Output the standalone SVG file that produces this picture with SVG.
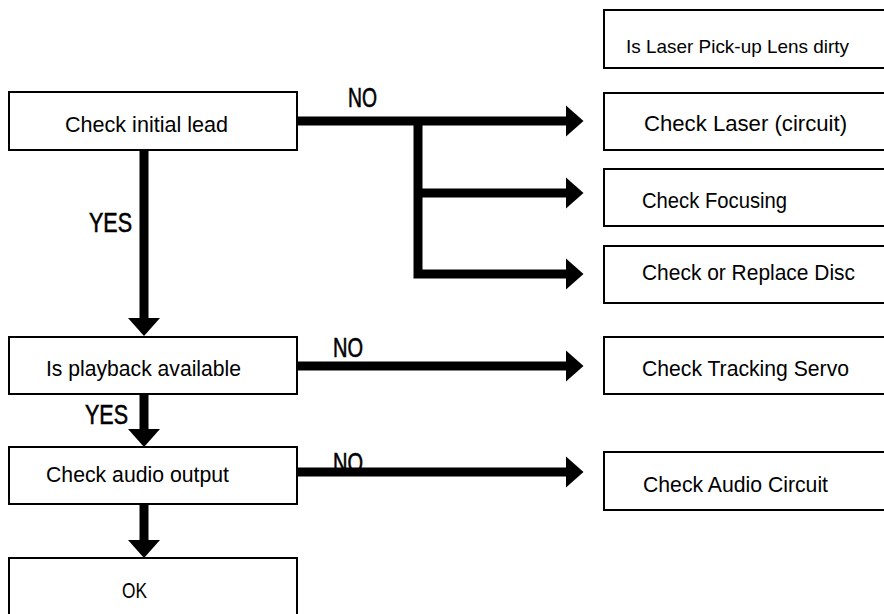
<svg xmlns="http://www.w3.org/2000/svg" width="884" height="614" viewBox="0 0 884 614">
<style>
.box{fill:#fff;stroke:#000;stroke-width:2}
.t{font-family:"Liberation Sans",Arial,sans-serif;font-size:22px;fill:#000}
.s{font-size:19px}
.lbl{font-family:"Liberation Sans",Arial,sans-serif;font-size:27px;fill:#000;stroke:#000;stroke-width:0.6}
.c{fill:none;stroke:#000;stroke-width:9}
</style>
<defs>
<marker id="ah" viewBox="0 0 18 32" markerWidth="18" markerHeight="32" markerUnits="userSpaceOnUse" refX="0.5" refY="16" orient="auto">
<path d="M0,0 L18,16 L0,32 Z" fill="#000"/>
</marker>
</defs>
<g id="labels">
<text class="lbl" x="348" y="107" textLength="29" lengthAdjust="spacingAndGlyphs">NO</text>
<text class="lbl" x="333" y="357" textLength="30" lengthAdjust="spacingAndGlyphs">NO</text>
<text class="lbl" x="333" y="472" textLength="30" lengthAdjust="spacingAndGlyphs">NO</text>
<text class="lbl" x="89" y="232" textLength="43" lengthAdjust="spacingAndGlyphs">YES</text>
<text class="lbl" x="85" y="424" textLength="43" lengthAdjust="spacingAndGlyphs">YES</text>
</g>
<g id="connectors">
<path class="c" d="M297,121 H566" marker-end="url(#ah)"/>
<path class="c" d="M418,121 V274 H566" marker-end="url(#ah)"/>
<path class="c" d="M418,193 H566" marker-end="url(#ah)"/>
<path class="c" d="M144,150 V318.5" marker-end="url(#ah)"/>
<path class="c" d="M144,394 V429.5" marker-end="url(#ah)"/>
<path class="c" d="M144,504 V540.5" marker-end="url(#ah)"/>
<path class="c" d="M297,366 H566" marker-end="url(#ah)"/>
<path class="c" d="M297,472 H566" marker-end="url(#ah)"/>
</g>
<g id="n-initial"><rect class="box" x="9" y="92" width="288" height="58"/><text class="t" x="65" y="132" textLength="163" lengthAdjust="spacingAndGlyphs">Check initial lead</text></g>
<g id="n-playback"><rect class="box" x="9" y="337" width="288" height="57"/><text class="t" x="46" y="376" textLength="195" lengthAdjust="spacingAndGlyphs">Is playback available</text></g>
<g id="n-audio"><rect class="box" x="9" y="447" width="288" height="57"/><text class="t" x="46" y="482" textLength="183" lengthAdjust="spacingAndGlyphs">Check audio output</text></g>
<g id="n-ok"><rect class="box" x="9" y="558" width="288" height="60"/><text class="t" x="122" y="598" textLength="25" lengthAdjust="spacingAndGlyphs">OK</text></g>
<g id="n-lens"><rect class="box" x="604" y="10" width="290" height="58"/><text class="t s" x="626" y="53" textLength="223" lengthAdjust="spacingAndGlyphs">Is Laser Pick-up Lens dirty</text></g>
<g id="n-laser"><rect class="box" x="604" y="93" width="290" height="57"/><text class="t" x="644" y="131" textLength="203" lengthAdjust="spacingAndGlyphs">Check Laser (circuit)</text></g>
<g id="n-focus"><rect class="box" x="604" y="169" width="290" height="57"/><text class="t" x="642" y="208" textLength="145" lengthAdjust="spacingAndGlyphs">Check Focusing</text></g>
<g id="n-disc"><rect class="box" x="604" y="246" width="290" height="57"/><text class="t" x="642" y="280" textLength="213" lengthAdjust="spacingAndGlyphs">Check or Replace Disc</text></g>
<g id="n-tracking"><rect class="box" x="604" y="337" width="290" height="57"/><text class="t" x="642" y="376" textLength="207" lengthAdjust="spacingAndGlyphs">Check Tracking Servo</text></g>
<g id="n-audiocircuit"><rect class="box" x="604" y="452" width="290" height="58"/><text class="t" x="643" y="492" textLength="185" lengthAdjust="spacingAndGlyphs">Check Audio Circuit</text></g>
</svg>
